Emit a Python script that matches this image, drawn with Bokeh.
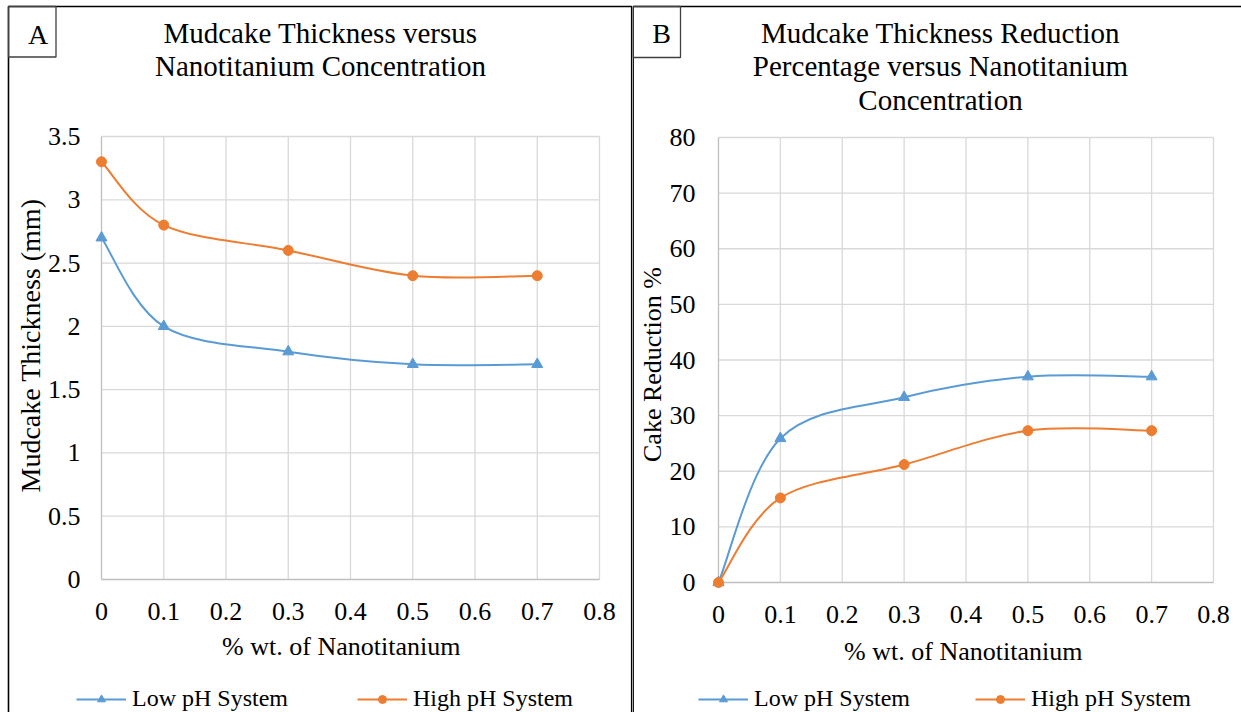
import math
from bokeh.plotting import figure
from bokeh.models import Range1d, Label, BoxAnnotation, Legend, LegendItem
from bokeh.layouts import row
from bokeh.embed import file_html
from bokeh.resources import INLINE
from bokeh.core.properties import value

# ---------------- data ----------------
nano_wt = [0.0, 0.1, 0.3, 0.5, 0.7]
thick_low = [2.7, 2.0, 1.8, 1.7, 1.7]
thick_high = [3.3, 2.8, 2.6, 2.4, 2.4]
red_low = [0.0, 25.9, 33.3, 37.0, 37.0]
red_high = [0.0, 15.2, 21.2, 27.3, 27.3]

series_names = ["Low pH System", "High pH System"]

x_ticks = [0.0, 0.1, 0.2, 0.3, 0.4, 0.5, 0.6, 0.7, 0.8]
x_tick_labels = ["0", "0.1", "0.2", "0.3", "0.4", "0.5", "0.6", "0.7", "0.8"]
yA_ticks = [0.0, 0.5, 1.0, 1.5, 2.0, 2.5, 3.0, 3.5]
yA_tick_labels = ["0", "0.5", "1", "1.5", "2", "2.5", "3", "3.5"]
yB_ticks = [0, 10, 20, 30, 40, 50, 60, 70, 80]
yB_tick_labels = ["0", "10", "20", "30", "40", "50", "60", "70", "80"]

title_A = ["Mudcake Thickness versus", "Nanotitanium Concentration"]
title_B = ["Mudcake Thickness Reduction", "Percentage versus Nanotitanium", "Concentration"]
x_title = "% wt. of  Nanotitanium"
yA_title = "Mudcake Thickness (mm)"
yB_title = "Cake Reduction %"

# ---------------- style / layout (pixels) ----------------
FONT = "Liberation Serif"
FONT_V = value(FONT)
BLUE = "#5B9BD5"
ORANGE = "#ED7D31"
GRID = "#D9D9D9"
AXIS = "#BFBFBF"
H = 712


def smooth(xs, ys):
    """Cubic Bezier segments through the points (Excel-like smoothing)."""
    n = len(xs)
    d = dict(x0=[], y0=[], x1=[], y1=[], cx0=[], cy0=[], cx1=[], cy1=[])
    for i in range(n - 1):
        xp, yp = (xs[i - 1], ys[i - 1]) if i > 0 else (xs[i], ys[i])
        xn, yn = (xs[i + 2], ys[i + 2]) if i + 2 < n else (xs[i + 1], ys[i + 1])
        d["x0"].append(xs[i]); d["y0"].append(ys[i])
        d["x1"].append(xs[i + 1]); d["y1"].append(ys[i + 1])
        d["cx0"].append(xs[i] + (xs[i + 1] - xp) / 6.0)
        d["cy0"].append(ys[i] + (ys[i + 1] - yp) / 6.0)
        d["cx1"].append(xs[i + 1] - (xn - xs[i]) / 6.0)
        d["cy1"].append(ys[i + 1] - (yn - ys[i]) / 6.0)
    return d


def panel(L):
    W = L["width"]
    xmax = x_ticks[-1]
    yticks = L["yticks"]
    ymax = yticks[-1]
    kx = xmax / (L["x1px"] - L["x0px"])
    ky = ymax / (L["y0px"] - L["y1px"])

    def X(px):
        return (px - L["x0px"]) * kx

    def Y(py):
        return (L["y0px"] - py) * ky

    p = figure(width=W, height=H, x_range=Range1d(X(0), X(W)), y_range=Range1d(Y(H), Y(0)),
               output_backend="svg", toolbar_location=None,
               x_axis_type=None, y_axis_type=None, min_border=0)
    p.outline_line_color = None
    p.background_fill_color = "white"
    p.border_fill_color = "white"

    # grid lines (from the tick lists)
    nx, ny = len(x_ticks) - 1, len(yticks) - 1
    p.segment(x0=x_ticks[1:], y0=[0] * nx, x1=x_ticks[1:], y1=[ymax] * nx,
              line_color=GRID, line_width=1.3)
    p.segment(x0=[0] * ny, y0=yticks[1:], x1=[xmax] * ny, y1=yticks[1:],
              line_color=GRID, line_width=1.3)
    p.segment(x0=[0, 0], y0=[0, 0], x1=[0, xmax], y1=[ymax, 0],
              line_color=AXIS, line_width=1.3)

    # tick labels
    p.text(x=[X(L["ylab_right"])] * len(yticks), y=yticks, text=L["ylabels"],
           text_font=FONT_V, text_font_size="26px", text_color="black",
           text_align="right", text_baseline="middle")
    p.text(x=x_ticks, y=[Y(L["xlab_y"])] * len(x_ticks), text=x_tick_labels,
           text_font=FONT_V, text_font_size="26px", text_color="black",
           text_align="center", text_baseline="middle")

    # axis titles
    p.add_layout(Label(x=X(L["xtitle"][0]), y=Y(L["xtitle"][1]), text=x_title,
                       text_font=FONT, text_font_size="26px", text_color="black",
                       text_align="center", text_baseline="middle"))
    p.add_layout(Label(x=X(L["ytitle"][0]), y=Y(L["ytitle"][1]), text=L["ytitle_text"],
                       text_font=FONT, text_font_size=L["ytitle_size"], text_color="black",
                       text_align="center", text_baseline="middle", angle=math.pi / 2))

    # series
    rl = p.bezier(source=smooth(nano_wt, L["low"]), x0="x0", y0="y0", x1="x1", y1="y1",
                  cx0="cx0", cy0="cy0", cx1="cx1", cy1="cy1",
                  line_color=BLUE, line_width=2)
    ml = p.scatter(nano_wt, L["low"], marker="triangle", size=11, color=BLUE)
    rh = p.bezier(source=smooth(nano_wt, L["high"]), x0="x0", y0="y0", x1="x1", y1="y1",
                  cx0="cx0", cy0="cy0", cx1="cx1", cy1="cy1",
                  line_color=ORANGE, line_width=2)
    mh = p.scatter(nano_wt, L["high"], marker="circle", size=10, color=ORANGE)

    for name, rends, lx in ((series_names[0], [rl, ml], L["leg_x"][0]),
                            (series_names[1], [rh, mh], L["leg_x"][1])):
        lg = Legend(items=[LegendItem(label=name, renderers=rends)],
                    location=(lx, L["leg_y"]), orientation="horizontal")
        lg.glyph_width = 50
        lg.glyph_height = 20
        lg.label_standoff = 6
        lg.padding = 0
        lg.margin = 0
        lg.spacing = 0
        lg.border_line_color = None
        lg.background_fill_alpha = 0
        lg.label_text_font = FONT
        lg.label_text_font_size = "24px"
        lg.label_text_color = "black"
        p.add_layout(lg, "center")

    # chart title
    for i, t in enumerate(L["titles"]):
        p.add_layout(Label(x=X(L["title_x"]), y=Y(32 + 33.5 * i), text=t,
                           text_font=FONT, text_font_size="29px", text_color="black",
                           text_align="center", text_baseline="middle"))

    # panel border (top / left / right) and the letter box
    b = L["border"]
    p.add_layout(BoxAnnotation(left=X(b[0]), right=X(b[1]), top=Y(6), bottom=Y(H + 20),
                               fill_alpha=0, line_color="black", line_alpha=1.0,
                               line_width=1.6))
    lb = L["letter_box"]
    p.add_layout(BoxAnnotation(left=X(lb[0]), right=X(lb[1]), top=Y(6), bottom=Y(lb[2]),
                               fill_alpha=0, line_color="#404040", line_alpha=1.0,
                               line_width=1.3))
    p.add_layout(Label(x=X(L["letter_xy"][0]), y=Y(L["letter_xy"][1]), text=L["letter"],
                       text_font=FONT, text_font_size="28px", text_color="black",
                       text_align="center", text_baseline="middle"))
    return p


layout_A = dict(width=632, x0px=101, x1px=599, y0px=579, y1px=136,
                yticks=yA_ticks, ylabels=yA_tick_labels, ylab_right=80, xlab_y=610.5,
                xtitle=(344, 646), ytitle=(30, 345), ytitle_text=yA_title, ytitle_size="28px",
                low=thick_low, high=thick_high, titles=title_A, title_x=320,
                leg_x=(76, 357), leg_y=0, border=(8, 631.2),
                letter_box=(8, 55.5, 56.5), letter="A", letter_xy=(37.5, 34))
layout_B = dict(width=609, x0px=86, x1px=581, y0px=582, y1px=137,
                yticks=yB_ticks, ylabels=yB_tick_labels, ylab_right=63, xlab_y=614,
                xtitle=(334, 651), ytitle=(20, 364), ytitle_text=yB_title, ytitle_size="26px",
                low=red_low, high=red_high, titles=title_B, title_x=308,
                leg_x=(66, 343), leg_y=0, border=(0.6, 700),
                letter_box=(0.6, 48, 57), letter="B", letter_xy=(29, 33))

pA = panel(layout_A)
pB = panel(layout_B)

open("out.html", "w").write(file_html(row(pA, pB), INLINE))
